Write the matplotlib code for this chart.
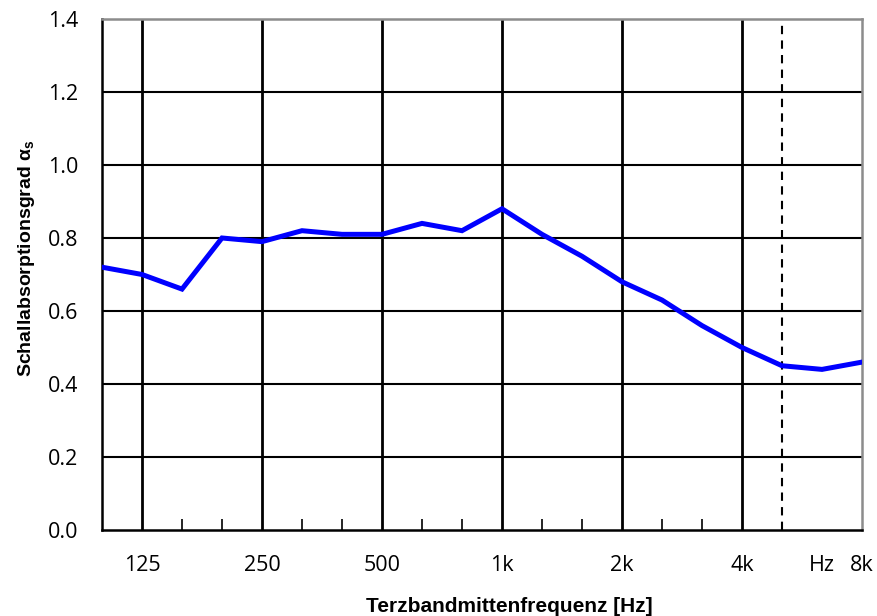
import matplotlib
matplotlib.use("Agg")
import matplotlib.pyplot as plt

# Terzbänder 100 Hz .. 8 kHz
bands = ["100", "125", "160", "200", "250", "315", "400", "500", "630", "800",
         "1k", "1.25k", "1.6k", "2k", "2.5k", "3.15k", "4k", "5k", "6.3k", "8k"]
alpha_s = [0.72, 0.70, 0.66, 0.80, 0.79, 0.82, 0.81, 0.81, 0.84, 0.82,
           0.88, 0.81, 0.75, 0.68, 0.63, 0.56, 0.50, 0.45, 0.44, 0.46]

octave_bands = ["125", "250", "500", "1k", "2k", "4k"]
label_bands = ["125", "250", "500", "1k", "2k", "4k", "6.3k", "8k"]
label_texts = ["125", "250", "500", "1k", "2k", "4k", "Hz", "8k"]
dashed_band = "5k"
yticks = [0.0, 0.2, 0.4, 0.6, 0.8, 1.0, 1.2, 1.4]

x = list(range(len(bands)))
pos = {b: i for i, b in enumerate(bands)}

fig = plt.figure(figsize=(8.77, 6.16), dpi=100)
ax = fig.add_axes([0.1163, 0.1396, 0.8666, 0.8296])

# horizontale Gitterlinien
for yv in yticks[1:-1]:
    ax.axhline(yv, color="black", lw=1.5, zorder=1)
# Oktav-Linien
for b in octave_bands:
    ax.axvline(pos[b], color="black", lw=2.0, zorder=1)
ax.axvline(pos[dashed_band], color="black", lw=1.5, ls=(0, (4, 3)), zorder=1)

ax.plot(x, alpha_s, color="#0000ff", lw=3.6, solid_joinstyle="miter", zorder=3)

ax.set_xlim(0, len(bands) - 1)
ax.set_ylim(0, 1.4)

tick_font = ["Open Sans", "DejaVu Sans"]
ax.set_yticks(yticks)
ax.set_yticklabels([f"{v:.1f}" for v in yticks], fontsize=15.5, family=tick_font)
ax.tick_params(axis="y", length=0, pad=17)

ax.set_xticks([pos[b] for b in label_bands])
ax.set_xticklabels(label_texts, fontsize=15.5, family=tick_font)
ax.tick_params(axis="x", length=0, pad=18)

# kleine Terz-Striche unten
minor = [pos[b] for b in bands if b not in octave_bands and b != dashed_band
         and b not in ("100", "8k")]
ax.set_xticks(minor, minor=True)
ax.tick_params(axis="x", which="minor", direction="in", length=8, width=1.2,
               color="black")

for s in ["left", "bottom"]:
    ax.spines[s].set_color("black")
    ax.spines[s].set_linewidth(1.8)
for s in ["top", "right"]:
    ax.spines[s].set_color("#8c8c8c")
    ax.spines[s].set_linewidth(1.8)

ax.set_xlabel("Terzbandmittenfrequenz [Hz]", fontsize=15, fontweight="bold",
              family="Liberation Sans")
ax.xaxis.set_label_coords(0.536, -0.131)
ax.xaxis.label.set_verticalalignment("top")
ax.set_ylabel(r"Schallabsorptionsgrad α$_\mathregular{s}$", fontsize=14,
              fontweight="bold", family="Liberation Sans")
ax.yaxis.set_label_coords(-0.0855, 0.532)

fig.savefig("out.png", dpi=100)
